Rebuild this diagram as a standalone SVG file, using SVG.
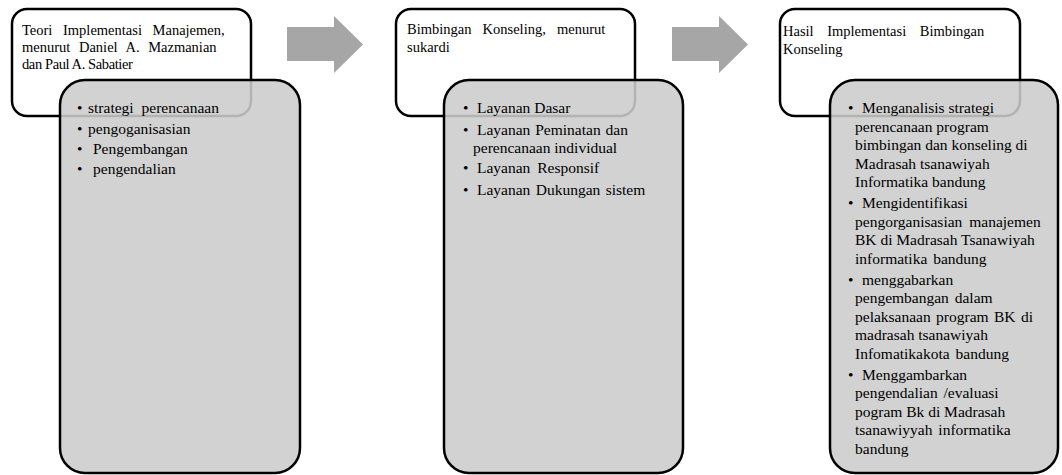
<svg xmlns="http://www.w3.org/2000/svg" width="1062" height="475" viewBox="0 0 1062 475">
<style>
.hd{fill:#ffffff;stroke:#000000;stroke-width:2.5}
.bd{fill:#cccccc;fill-opacity:0.88;stroke:#000000;stroke-width:2.5}
.ar{fill:#a6a6a6;stroke:none}
text{font-family:"Liberation Serif","Times New Roman",serif;font-size:15.5px;fill:#000000}
.t{font-size:14.5px}
</style>
<rect width="1062" height="475" fill="#ffffff"/>
<g id="node1">
<rect class="hd" x="12" y="9" width="239" height="107" rx="15"/>
<rect class="bd" x="60" y="80" width="240" height="393" rx="25"/>
<text class="t" x="22" y="35" word-spacing="7">Teori Implementasi Manajemen,</text>
<text class="t" x="22" y="52" word-spacing="5">menurut Daniel A. Mazmanian</text>
<text class="t" x="22" y="68.5" letter-spacing="-0.4">dan Paul A. Sabatier</text>
<text x="77" y="113">•</text><text x="88" y="113" word-spacing="4">strategi perencanaan</text>
<text x="77" y="133.5">•</text><text x="88" y="133.5">pengoganisasian</text>
<text x="77" y="153.5">•</text><text x="93" y="153.5">Pengembangan</text>
<text x="77" y="174">•</text><text x="93" y="174">pengendalian</text>
</g>
<g id="node2">
<rect class="hd" x="396" y="9" width="239" height="107" rx="15"/>
<rect class="bd" x="444" y="80" width="239" height="393" rx="25"/>
<text class="t" x="407" y="34" word-spacing="7.5">Bimbingan Konseling, menurut</text>
<text class="t" x="407" y="51.5">sukardi</text>
<text x="463" y="113">•</text><text x="477" y="113">Layanan Dasar</text>
<text x="463" y="134.5">•</text><text x="477" y="134.5" word-spacing="1">Layanan Peminatan dan</text>
<text x="473" y="153">perencanaan individual</text>
<text x="463" y="173">•</text><text x="477" y="173" word-spacing="3">Layanan Responsif</text>
<text x="463" y="194.5">•</text><text x="477" y="194.5" word-spacing="1.5">Layanan Dukungan sistem</text>
</g>
<g id="node3">
<rect class="hd" x="780" y="9" width="240" height="107" rx="15"/>
<rect class="bd" x="830" y="80" width="228" height="393" rx="25"/>
<text class="t" x="783" y="36" word-spacing="10">Hasil Implementasi Bimbingan</text>
<text class="t" x="783" y="53.5">Konseling</text>
<text x="848" y="113">•</text><text x="862" y="113">Menganalisis strategi</text>
<text x="855" y="131.5">perencanaan program</text>
<text x="855" y="150">bimbingan dan konseling di</text>
<text x="855" y="168.5">Madrasah tsanawiyah</text>
<text x="855" y="187">Informatika bandung</text>
<text x="848" y="208">•</text><text x="862" y="208">Mengidentifikasi</text>
<text x="855" y="226.5" word-spacing="3">pengorganisasian manajemen</text>
<text x="855" y="245">BK di Madrasah Tsanawiyah</text>
<text x="855" y="263.5" word-spacing="2">informatika bandung</text>
<text x="848" y="284.5">•</text><text x="862" y="284.5">menggabarkan</text>
<text x="855" y="303" word-spacing="2">pengembangan dalam</text>
<text x="855" y="321.5" word-spacing="1.5">pelaksanaan program BK di</text>
<text x="855" y="340">madrasah tsanawiyah</text>
<text x="855" y="358.5" word-spacing="2">Infomatikakota bandung</text>
<text x="848" y="379.5">•</text><text x="862" y="379.5">Menggambarkan</text>
<text x="855" y="398" word-spacing="2">pengendalian /evaluasi</text>
<text x="855" y="416.5">pogram Bk di Madrasah</text>
<text x="855" y="435" word-spacing="2">tsanawiyyah informatika</text>
<text x="855" y="453.5">bandung</text>
</g>
<g id="connectors">
<polygon class="ar" points="287,27 334,27 334,16 363,44.5 334,73 334,61 287,61"/>
<polygon class="ar" points="672,27 719,27 719,16 748,44.5 719,73 719,61 672,61"/>
</g>
</svg>
